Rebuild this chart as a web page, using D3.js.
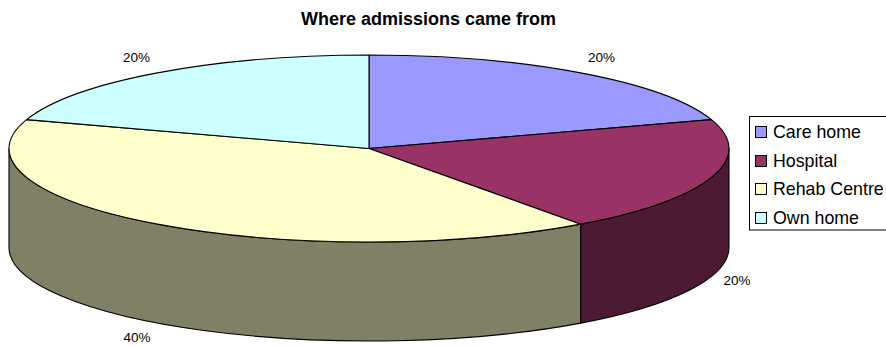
<!DOCTYPE html>
<html><head><meta charset="utf-8">
<script src="https://cdn.jsdelivr.net/npm/d3@7"></script>
<style>html,body{margin:0;background:#fff;overflow:hidden}svg{display:block}text{font-family:"Liberation Sans",Arial,sans-serif;fill:#000}</style>
</head><body><svg id="c" width="886" height="347"></svg>
<script>
const categories = ["Care home","Hospital","Rehab Centre","Own home"];
const values = [20,20,40,20];
const percentLabels = ["20%","20%","40%","20%"];
const topColors = ["#9999FF","#993366","#FFFFCC","#CCFFFF"];
const sideColors = ["#4D4D80","#4D1A33","#808066","#668080"];
const title = "Where admissions came from";

const W=886,H=347,cx=369,cy=148.5,rx=360,ry=93.5,depth=99;
const svg=d3.select("#c");
const arcs=d3.pie().sort(null).value(d=>d)(values);
const px=a=>cx+rx*Math.sin(a), py=a=>cy-ry*Math.cos(a);

function sidePath(a0,a1){
  const s=Math.max(a0,Math.PI/2), e=Math.min(a1,3*Math.PI/2);
  if(e<=s) return null;
  return `M${px(s)},${py(s)}A${rx},${ry} 0 0 1 ${px(e)},${py(e)}`+
         `L${px(e)},${py(e)+depth}A${rx},${ry} 0 0 0 ${px(s)},${py(s)+depth}Z`;
}
arcs.forEach((d,i)=>{
  const p=sidePath(d.startAngle,d.endAngle);
  if(p) svg.append("path").attr("d",p).attr("fill",sideColors[i]).attr("stroke","#000").attr("stroke-width",1.1).attr("stroke-linejoin","round");
});
arcs.forEach((d,i)=>{
  const large=d.endAngle-d.startAngle>Math.PI?1:0;
  svg.append("path")
    .attr("d",`M${cx},${cy}L${px(d.startAngle)},${py(d.startAngle)}A${rx},${ry} 0 ${large} 1 ${px(d.endAngle)},${py(d.endAngle)}Z`)
    .attr("fill",topColors[i]).attr("stroke","#000").attr("stroke-width",1.1).attr("stroke-linejoin","round");
});
svg.append("text").attr("x",428.5).attr("y",25).attr("text-anchor","middle")
  .attr("font-size",18).attr("font-weight","bold").text(title);
const labelPos=[[601.5,62],[737,285],[137,342],[136.5,62]];
percentLabels.forEach((t,i)=>svg.append("text").attr("x",labelPos[i][0]).attr("y",labelPos[i][1])
  .attr("text-anchor","middle").attr("font-size",13.5).attr("fill","#222").text(t));
svg.append("rect").attr("x",749.5).attr("y",116.5).attr("width",160).attr("height",113.5)
  .attr("fill","#fff").attr("stroke","#000");
const rowY=d3.scalePoint().domain(categories).range([132,217.5]);
categories.forEach((c,i)=>{
  const y=Math.round(rowY(c));
  svg.append("rect").attr("x",755.5).attr("y",y-5.5).attr("width",11).attr("height",11)
    .attr("fill",topColors[i]).attr("stroke","#000");
  svg.append("text").attr("x",773).attr("y",y+6).attr("font-size",17.8).text(c);
});
</script></body></html>
